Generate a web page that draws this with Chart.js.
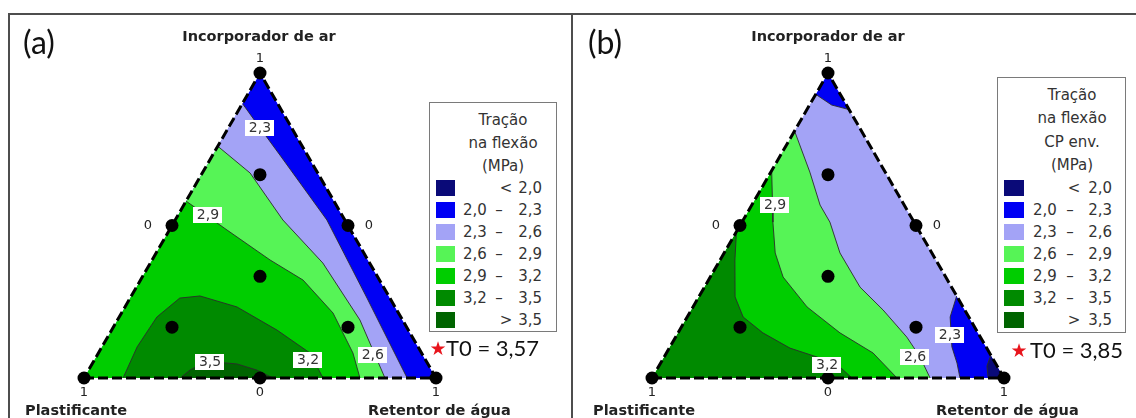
<!DOCTYPE html>
<html lang="pt">
<head>
<meta charset="utf-8">
<title>Tração na flexão – diagramas ternários</title>
<script src="https://cdn.jsdelivr.net/npm/chart.js@4.4.1/dist/chart.umd.min.js"></script>
<style>
  html, body { margin: 0; padding: 0; background: #fff; }
  #page { position: relative; width: 1136px; height: 418px; overflow: hidden; background: #fff;
          font-family: "DejaVu Sans", sans-serif; color: #333; }
  #page canvas { position: absolute; top: 0; }
  .frame { position: absolute; background: #4d4d4d; }
  .t { position: absolute; white-space: nowrap; line-height: 1; }
  .c { transform: translate(-50%, -50%); }
  .l { transform: translate(0, -50%); }
  .r { transform: translate(-100%, -50%); }
  .tag { font-family: Lato, "Open Sans", sans-serif; font-size: 32px; color: #111; }
  .axis { font-weight: bold; font-size: 14.5px; color: #222; }
  .leg { font-size: 15px; color: #333; }
  .box { position: absolute; border: 1px solid #7a7a7a; background: #fff; box-sizing: border-box; }
  .sw { position: absolute; height: 16px; }
  .star { font-size: 19px; color: #e8141c; }
  .t0 { font-family: Lato, "Open Sans", sans-serif; font-size: 22px; color: #111; }
</style>
</head>
<body>
<div id="page">
  <div class="frame" style="left:8px; top:13px; width:1128px; height:2px;"></div>
  <div class="frame" style="left:8px; top:13px; width:2px; height:405px;"></div>
  <div class="frame" style="left:571px; top:13px; width:2px; height:405px;"></div>
  <canvas id="chartA" width="568" height="418" style="left:0;"></canvas>
  <canvas id="chartB" width="568" height="418" style="left:568px;"></canvas>
</div>
<script>
// Band limits (MPa) and band colours, lowest band first
const bandLimits = ['2,0', '2,3', '2,6', '2,9', '3,2', '3,5'];
const bandColors = ['#0a0a78', '#0000f4', '#a3a3f6', '#56f456', '#00cd00', '#008a00', '#006400'];

// Compositions are [Retentor de água, Incorporador de ar]; Plastificante is the remainder.
const designPoints = [[0, 1], [0, 0], [1, 0], [0, 0.5], [0.5, 0.5], [0.5, 0],
                      [1 / 3, 1 / 3], [1 / 6, 2 / 3], [1 / 6, 1 / 6], [2 / 3, 1 / 6]];

// Vertex and edge-midpoint scale values
const tickText = ['1', '0', '0', '1', '0', '1'];
const tickAt = [[0, 1], [0, 0.5], [0.5, 0.5], [0, 0], [0.5, 0], [1, 0]];

// (a) Tração na flexão – contour lines
const a23 = [[0, 0.90], [0.09, 0.82], [0.191, 0.731], [0.431, 0.518], [0.673, 0.262], [0.918, 0]];
const a26 = [[0, 0.76], [0.136, 0.672], [0.306, 0.518], [0.490, 0.377], [0.689, 0.190], [0.855, 0]];
const a29 = [[0, 0.58], [0.164, 0.485], [0.335, 0.387], [0.462, 0.321], [0.601, 0.213], [0.723, 0.082], [0.784, 0]];
const a32 = [[0.111, 0], [0.100, 0.102], [0.107, 0.200], [0.141, 0.262], [0.195, 0.269], [0.318, 0.233],
             [0.470, 0.157], [0.601, 0.082], [0.679, 0]];
const a35 = [[0.273, 0], [0.288, 0.026], [0.308, 0.043], [0.352, 0.052], [0.412, 0.046], [0.478, 0.026], [0.537, 0]];
const aLabels = ['2,3', '2,9', '3,5', '3,2', '2,6'];
const aLabelAt = [[0.09, 0.82], [0.085, 0.534], [0.332, 0.052], [0.607, 0.059], [0.783, 0.075]];
const aT0 = '3,57';

// (b) Tração na flexão, CP env. – contour lines
const b23top = [[0, 0.93], [0.063, 0.895], [0.12, 0.88]];
const b23low = [[0.731, 0.269], [0.747, 0.200], [0.801, 0.102], [0.842, 0.049], [0.875, 0]];
const b20 = [[0.925, 0.075], [0.932, 0.039], [0.955, 0]];
const b26 = [[0, 0.81], [0.111, 0.675], [0.194, 0.567], [0.25, 0.511], [0.329, 0.410], [0.442, 0.298],
             [0.545, 0.223], [0.657, 0.134], [0.727, 0.069], [0.790, 0]];
const b29 = [[0, 0.68], [0.059, 0.567], [0.088, 0.511], [0.145, 0.410], [0.207, 0.331], [0.324, 0.233],
             [0.460, 0.148], [0.587, 0.082], [0.696, 0]];
const b32 = [[0, 0.48], [0.042, 0.387], [0.103, 0.266], [0.159, 0.200], [0.241, 0.148], [0.343, 0.098],
             [0.434, 0.069], [0.516, 0.036], [0.568, 0]];
const bLabels = ['2,9', '3,2', '2,6', '2,3'];
const bLabelAt = [[0.066, 0.567], [0.476, 0.043], [0.713, 0.069], [0.776, 0.141]];
const bT0 = '3,85';

// ---------------------------------------------------------------------------
const VP = [0, 0], VR = [1, 0], VI = [0, 1];
const LINE = '#2b2b2b';
const pt = ([r, i]) => ({ x: r + i / 2, y: i });

// Filled band: the contour closed through a simplex vertex (or along the base edge)
function bandDataset(points, corner, color, order) {
  return {
    data: points.concat(corner ? [corner] : []).map(pt), order, showLine: true, fill: 'shape',
    backgroundColor: color, borderColor: 'rgba(0,0,0,0)', borderWidth: 0, pointRadius: 0, tension: 0
  };
}
// Contour line itself, stroked on top of the fills
function contourDataset(points, order) {
  return {
    data: points.map(pt), order, showLine: true, fill: false,
    borderColor: LINE, borderWidth: 0.9, pointRadius: 0, tension: 0
  };
}

function makePanel(canvasId, baseBand, regions, labels, labelAt) {
  const datasets = [bandDataset([VP, VR, VI], null, bandColors[baseBand], 100)];
  regions.forEach((g, k) => datasets.push(bandDataset(g.pts, g.corner, bandColors[g.band], 90 - k)));
  regions.forEach((g, k) => datasets.push(contourDataset(g.pts, 50 - k)));
  datasets.push({
    data: [VP, VR, VI, VP].map(pt), order: 1, showLine: true, fill: false,
    borderColor: '#000', borderWidth: 3, borderDash: [10, 4], pointRadius: 0, clip: false, unclipped: true
  });
  datasets.push({
    data: designPoints.map(pt), order: 0, showLine: false, pointRadius: 6.5,
    pointBackgroundColor: '#000', pointBorderWidth: 0, clip: false, unclipped: true
  });

  // Keeps the band fills inside the simplex, then writes scale values and contour labels
  const simplex = {
    id: 'simplex',
    beforeDatasetsDraw(chart) {
      const { ctx, scales: { x, y } } = chart;
      ctx.save();
      ctx.beginPath();
      [VP, VR, VI].map(pt).forEach((p, k) => {
        const px = x.getPixelForValue(p.x), py = y.getPixelForValue(p.y);
        k ? ctx.lineTo(px, py) : ctx.moveTo(px, py);
      });
      ctx.closePath();
      ctx.clip();
      chart.$clipped = true;
    },
    beforeDatasetDraw(chart, args) {
      if (chart.$clipped && chart.data.datasets[args.index].unclipped) {
        chart.ctx.restore();
        chart.$clipped = false;
      }
    },
    afterDatasetsDraw(chart) {
      if (chart.$clipped) { chart.ctx.restore(); chart.$clipped = false; }
    },
    afterDraw(chart) {
      const { ctx, scales: { x, y } } = chart;
      const toPx = c => { const p = pt(c); return [x.getPixelForValue(p.x), y.getPixelForValue(p.y)]; };
      ctx.save();
      ctx.textAlign = 'center';
      ctx.textBaseline = 'middle';
      ctx.font = '13px "DejaVu Sans"';
      ctx.fillStyle = '#222';
      const offsets = [[0, -14], [-24, 0], [21, 0], [0, 15], [0, 15], [0, 15]];
      tickText.forEach((t, k) => {
        const [px, py] = toPx(tickAt[k]);
        ctx.fillText(t, px + offsets[k][0], py + offsets[k][1]);
      });
      ctx.font = '14px "DejaVu Sans"';
      labels.forEach((t, k) => {
        const [px, py] = toPx(labelAt[k]);
        const w = ctx.measureText(t).width + 7;
        ctx.fillStyle = '#fff';
        ctx.fillRect(Math.round(px - w / 2), Math.round(py - 8), Math.round(w), 16);
        ctx.fillStyle = '#333';
        ctx.fillText(t, px, py + 0.5);
      });
      ctx.restore();
    }
  };

  new Chart(document.getElementById(canvasId), {
    type: 'scatter',
    data: { datasets },
    options: {
      responsive: false, animation: false, events: [], devicePixelRatio: 1,
      layout: { padding: { left: 84, right: 132, top: 73, bottom: 40 } },
      scales: {
        x: { type: 'linear', min: 0, max: 1, display: false },
        y: { type: 'linear', min: 0, max: 1, display: false }
      },
      plugins: { legend: { display: false }, tooltip: { enabled: false } }
    },
    plugins: [simplex]
  });
}

makePanel('chartA', 1, [
  { pts: a23, corner: VP, band: 2 },
  { pts: a26, corner: VP, band: 3 },
  { pts: a29, corner: VP, band: 4 },
  { pts: a32, corner: null, band: 5 },
  { pts: a35, corner: null, band: 6 }
], aLabels, aLabelAt);

makePanel('chartB', 2, [
  { pts: b23top, corner: VI, band: 1 },
  { pts: b23low, corner: VR, band: 1 },
  { pts: b20, corner: VR, band: 0 },
  { pts: b26, corner: VP, band: 3 },
  { pts: b29, corner: VP, band: 4 },
  { pts: b32, corner: VP, band: 5 }
], bLabels, bLabelAt);

// ---------------------------------------------------------------------------
// Titles, axis names and legends
const page = document.getElementById('page');
function text(str, x, y, cls) {
  const d = document.createElement('div');
  d.className = 't ' + cls;
  d.textContent = str;
  d.style.left = x + 'px';
  d.style.top = y + 'px';
  page.appendChild(d);
  return d;
}
function rect(cls, x, y, w, h, color) {
  const d = document.createElement('div');
  d.className = cls;
  Object.assign(d.style, { left: x + 'px', top: y + 'px', width: w + 'px', height: h + 'px' });
  if (color) d.style.background = color;
  page.appendChild(d);
}

function legend(L) {
  rect('box', L.box[0], L.box[1], L.box[2], L.box[3]);
  L.title.forEach((s, k) => text(s, L.titleX, L.titleY[k], 'leg c'));
  for (let k = 0; k < bandColors.length; k++) {
    const yc = L.rowY + k * 22;
    rect('sw', L.swX, yc - 8, L.swW, 16, bandColors[k]);
    if (k === 0 || k === bandColors.length - 1) {
      text(k === 0 ? '<' : '>', L.ltX, yc, 'leg c');
      text(bandLimits[k === 0 ? 0 : bandLimits.length - 1], L.xr, yc, 'leg r');
    } else {
      text(bandLimits[k - 1], L.xl, yc, 'leg l');
      text('–', L.xd, yc, 'leg c');
      text(bandLimits[k], L.xr, yc, 'leg r');
    }
  }
  text('★', L.starX, L.t0Y, 'star c');
  text('T0 = ' + L.t0, L.t0X, L.t0Y, 't0 l');
}

// panel (a)
text('(a)', 23, 42, 'tag l');
text('Incorporador de ar', 259, 36, 'axis c');
text('Plastificante', 25, 410, 'axis l');
text('Retentor de água', 368, 410, 'axis l');
legend({
  box: [429, 102, 128, 230], title: ['Tração', 'na flexão', '(MPa)'], titleX: 503, titleY: [120, 143, 166],
  rowY: 187.5, swX: 436, swW: 19, xl: 463, xd: 499, ltX: 506, xr: 542,
  starX: 438, t0X: 446, t0Y: 348, t0: aT0
});

// panel (b)
text('(b)', 588, 42, 'tag l');
text('Incorporador de ar', 828, 36, 'axis c');
text('Plastificante', 593, 410, 'axis l');
text('Retentor de água', 936, 410, 'axis l');
legend({
  box: [997, 77, 129, 256], title: ['Tração', 'na flexão', 'CP env.', '(MPa)'], titleX: 1072,
  titleY: [95, 118, 142, 165],
  rowY: 187.5, swX: 1004, swW: 20, xl: 1033, xd: 1070, ltX: 1074, xr: 1112,
  starX: 1019, t0X: 1030, t0Y: 350, t0: bT0
});
</script>
</body>
</html>
